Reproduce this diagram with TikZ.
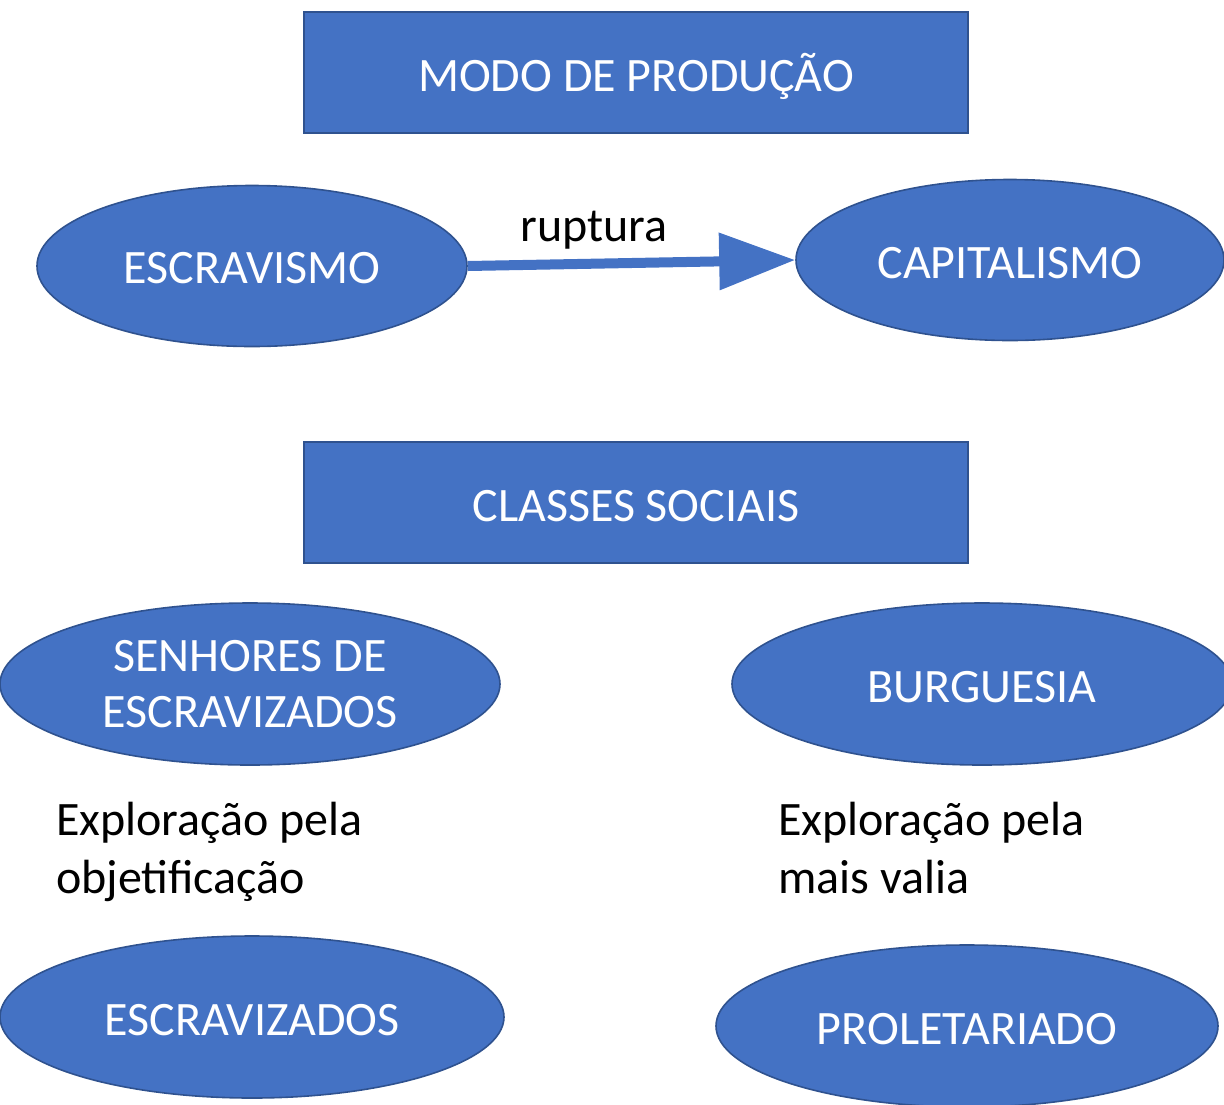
\documentclass[tikz,border=0pt]{standalone}
\usepackage{fontspec}
\setmainfont{Carlito}
\usetikzlibrary{shapes.geometric,arrows.meta}
\definecolor{boxblue}{HTML}{4472C4}
\definecolor{edgeblue}{HTML}{2F528F}
\newcommand{\dnshift}[2]{\raisebox{-#1}[\height][\depth]{#2}}
\begin{document}
\begin{tikzpicture}[x=1pt,y=-1pt,
  rectbox/.style={rectangle,draw=edgeblue,fill=boxblue,line width=2pt,minimum width=664pt,minimum height=121pt,inner sep=0pt,text=white,font=\fontsize{48}{56}\selectfont},
  ellbox/.style={ellipse,draw=edgeblue,fill=boxblue,line width=1.6pt,inner sep=0pt,text=white,align=center,font=\fontsize{48}{56}\selectfont},
  plaintext/.style={anchor=north west,align=left,inner sep=0pt,font=\fontsize{48}{58}\selectfont}]
\useasboundingbox (0,0) rectangle (1224,1104);
\node[rectbox] (modo) at (636,72) {\dnshift{4pt}{MODO DE PRODUÇÃO}};
\node[rectbox] (classes) at (636,502) {\dnshift{4pt}{CLASSES SOCIAIS}};
\node[ellbox,minimum width=430pt,minimum height=161pt] (esc) at (252,266) {\dnshift{2pt}{ESCRAVISMO}};
\node[ellbox,minimum width=428pt,minimum height=161pt] (cap) at (1010,260) {\dnshift{3pt}{CAPITALISMO}};
\draw[boxblue,line width=10pt,-{Triangle[length=76pt,width=55pt]}] (esc.east) -- (cap.west);
\node[font=\fontsize{48}{56}\selectfont] (rup) at (594,230) {ruptura};
\node[ellbox,minimum width=500pt,minimum height=162pt] (sen) at (250,684) {SENHORES DE\\ESCRAVIZADOS};
\node[ellbox,minimum width=500pt,minimum height=162pt] (bur) at (982,684) {\dnshift{3pt}{BURGUESIA}};
\node[plaintext] (expl1) at (56,802) {Exploração pela\\objetificação};
\node[plaintext] (expl2) at (778,802) {Exploração pela\\mais valia};
\node[ellbox,minimum width=504pt,minimum height=162pt] (escz) at (252,1017) {\dnshift{3pt}{ESCRAVIZADOS}};
\node[ellbox,minimum width=502pt,minimum height=162pt] (prol) at (967,1026) {\dnshift{3pt}{PROLETARIADO}};
\end{tikzpicture}
\end{document}
